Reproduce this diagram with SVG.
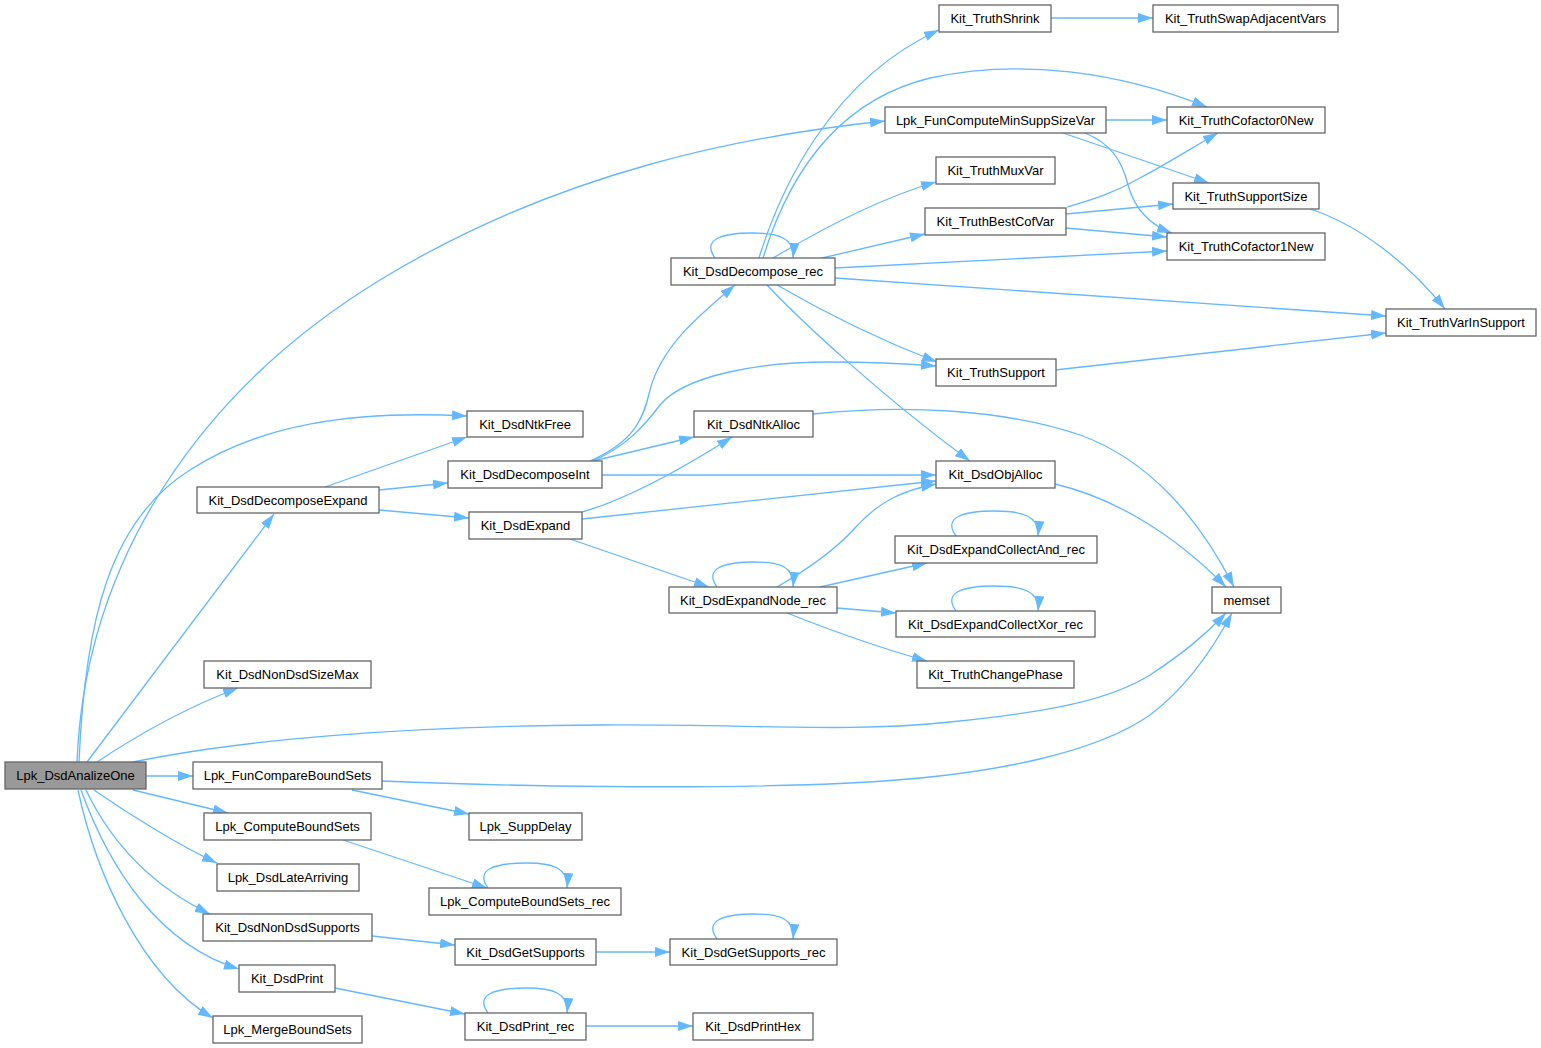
<svg xmlns="http://www.w3.org/2000/svg" width="1541" height="1048" viewBox="0 0 1541 1048">
<style>
.n rect{fill:#ffffff;stroke:#666666;stroke-width:1.3}
.root rect{fill:#999999}
text{font-family:"Liberation Sans",Arial,sans-serif;font-size:13px;fill:#000;text-anchor:middle}
.e path{fill:none;stroke:#63b8ff;stroke-width:1.3;marker-end:url(#ah)}
</style>
<defs>
<marker id="ah" markerUnits="userSpaceOnUse" markerWidth="16" markerHeight="11" refX="15" refY="5" orient="auto">
<path d="M0,0 L15,5 L0,10 z" fill="#63b8ff" stroke="none"/>
</marker>
</defs>
<rect width="1541" height="1048" fill="#ffffff"/>
<g id="connectors" class="e">
<path d="M77,762 C 85,560 200,390 380,280 C 560,170 750,135 885,121"/>
<path d="M79,762 C 85,620 110,520 190,470 C 260,425 350,410 467,416"/>
<path d="M87,762 L 274,514"/>
<path d="M97,762 C 130,740 180,710 238,688"/>
<path d="M133,762 C 240,740 400,726 600,725 C 750,724 850,733 950,722 C 1050,712 1110,700 1150,675 C 1185,652 1205,635 1226,613"/>
<path d="M146,776 L 193,776"/>
<path d="M133,790 L 228,813"/>
<path d="M94,790 C 130,815 180,846 217,863"/>
<path d="M86,790 C 110,840 150,885 210,914"/>
<path d="M81,790 C 110,870 160,945 239,969"/>
<path d="M78,790 C 95,870 140,975 213,1018"/>
<path d="M382,781 C 500,786 700,790 850,783 C 1000,776 1100,750 1150,715 C 1190,685 1215,645 1232,613"/>
<path d="M352,790 L 469,814"/>
<path d="M343,840 L 487,888"/>
<path d="M488,888 C 475,870 493,863 527,863 C 552,863 569,868 567,888"/>
<path d="M372,936 L 455,945"/>
<path d="M596,952 L 670,952"/>
<path d="M717,939 C 704,921 722,914 755,914 C 780,914 795,919 793,939"/>
<path d="M335,988 L 465,1014"/>
<path d="M488,1013 C 475,995 493,988 527,988 C 552,988 569,993 567,1013"/>
<path d="M586,1026 L 693,1026"/>
<path d="M325,487 L 467,437"/>
<path d="M379,490 L 448,483"/>
<path d="M379,510 L 469,518"/>
<path d="M590,461 C 640,440 645,410 650,390 C 662,345 700,315 735,285"/>
<path d="M592,461 C 625,448 645,425 660,405 C 685,375 760,362 830,362 C 880,362 910,364 936,366"/>
<path d="M593,461 L 694,437"/>
<path d="M602,475 L 936,475"/>
<path d="M582,512 C 625,500 680,470 732,437"/>
<path d="M582,519 L 936,481"/>
<path d="M570,539 L 709,587"/>
<path d="M717,587 C 704,569 722,562 755,562 C 780,562 795,567 793,587"/>
<path d="M777,587 C 810,568 835,550 855,528 C 880,500 905,490 936,484"/>
<path d="M820,587 L 927,563"/>
<path d="M837,608 L 896,613"/>
<path d="M787,613 C 830,630 880,648 927,661"/>
<path d="M956,536 C 943,518 961,511 995,511 C 1022,511 1040,516 1038,536"/>
<path d="M956,611 C 943,593 961,586 995,586 C 1022,586 1040,591 1038,611"/>
<path d="M813,414 C 900,405 1000,408 1080,435 C 1150,460 1200,520 1234,587"/>
<path d="M1055,484 C 1110,497 1170,530 1226,587"/>
<path d="M715,258 C 702,240 720,233 753,233 C 778,233 795,238 793,258"/>
<path d="M759,258 C 780,190 830,80 939,30"/>
<path d="M763,258 C 790,170 840,100 930,78 C 1020,58 1120,72 1207,107"/>
<path d="M773,258 C 820,230 880,198 936,182"/>
<path d="M822,258 L 925,234"/>
<path d="M835,268 L 1167,251"/>
<path d="M835,278 L 1386,316"/>
<path d="M777,285 C 820,310 880,340 937,362"/>
<path d="M767,285 C 800,320 880,395 970,461"/>
<path d="M1106,120 L 1167,120"/>
<path d="M1063,133 L 1209,183"/>
<path d="M1085,133 C 1110,143 1122,160 1128,185 C 1135,210 1150,225 1172,233"/>
<path d="M1067,207 C 1090,200 1110,195 1140,178 C 1170,162 1195,146 1218,133"/>
<path d="M1066,214 L 1173,204"/>
<path d="M1066,228 L 1167,237"/>
<path d="M1310,209 C 1360,225 1410,265 1445,309"/>
<path d="M1055,370 L 1386,333"/>
<path d="M1051,18 L 1153,18"/>
</g>
<g id="n0" class="n root"><rect x="5" y="762" width="141" height="27"/><text x="75.5" y="780">Lpk_DsdAnalizeOne</text></g>
<g id="n1" class="n"><rect x="885" y="107" width="221" height="26"/><text x="995.5" y="124.5">Lpk_FunComputeMinSuppSizeVar</text></g>
<g id="n2" class="n"><rect x="1167" y="107" width="158" height="26"/><text x="1246" y="124.5">Kit_TruthCofactor0New</text></g>
<g id="n3" class="n"><rect x="1173" y="183" width="146" height="26"/><text x="1246" y="200.5">Kit_TruthSupportSize</text></g>
<g id="n4" class="n"><rect x="1167" y="233" width="158" height="27"/><text x="1246" y="251">Kit_TruthCofactor1New</text></g>
<g id="n5" class="n"><rect x="467" y="411" width="116" height="26"/><text x="525" y="428.5">Kit_DsdNtkFree</text></g>
<g id="n6" class="n"><rect x="197" y="487" width="182" height="26"/><text x="288" y="504.5">Kit_DsdDecomposeExpand</text></g>
<g id="n7" class="n"><rect x="448" y="461" width="154" height="27"/><text x="525" y="479">Kit_DsdDecomposeInt</text></g>
<g id="n8" class="n"><rect x="469" y="512" width="113" height="27"/><text x="525.5" y="530">Kit_DsdExpand</text></g>
<g id="n9" class="n"><rect x="671" y="258" width="164" height="27"/><text x="753" y="276">Kit_DsdDecompose_rec</text></g>
<g id="n10" class="n"><rect x="936" y="359" width="120" height="27"/><text x="996" y="377">Kit_TruthSupport</text></g>
<g id="n11" class="n"><rect x="694" y="411" width="119" height="26"/><text x="753.5" y="428.5">Kit_DsdNtkAlloc</text></g>
<g id="n12" class="n"><rect x="936" y="461" width="119" height="27"/><text x="995.5" y="479">Kit_DsdObjAlloc</text></g>
<g id="n13" class="n"><rect x="669" y="587" width="168" height="26"/><text x="753" y="604.5">Kit_DsdExpandNode_rec</text></g>
<g id="n14" class="n"><rect x="939" y="5" width="112" height="27"/><text x="995" y="23">Kit_TruthShrink</text></g>
<g id="n15" class="n"><rect x="1153" y="5" width="185" height="27"/><text x="1245.5" y="23">Kit_TruthSwapAdjacentVars</text></g>
<g id="n16" class="n"><rect x="936" y="157" width="119" height="27"/><text x="995.5" y="175">Kit_TruthMuxVar</text></g>
<g id="n17" class="n"><rect x="925" y="208" width="141" height="27"/><text x="995.5" y="226">Kit_TruthBestCofVar</text></g>
<g id="n18" class="n"><rect x="1386" y="309" width="150" height="27"/><text x="1461" y="327">Kit_TruthVarInSupport</text></g>
<g id="n19" class="n"><rect x="1212" y="587" width="69" height="26"/><text x="1246.5" y="604.5">memset</text></g>
<g id="n20" class="n"><rect x="895" y="536" width="202" height="27"/><text x="996" y="554">Kit_DsdExpandCollectAnd_rec</text></g>
<g id="n21" class="n"><rect x="896" y="611" width="199" height="26"/><text x="995.5" y="628.5">Kit_DsdExpandCollectXor_rec</text></g>
<g id="n22" class="n"><rect x="917" y="661" width="157" height="27"/><text x="995.5" y="679">Kit_TruthChangePhase</text></g>
<g id="n23" class="n"><rect x="204" y="661" width="167" height="27"/><text x="287.5" y="679">Kit_DsdNonDsdSizeMax</text></g>
<g id="n24" class="n"><rect x="193" y="762" width="189" height="27"/><text x="287.5" y="780">Lpk_FunCompareBoundSets</text></g>
<g id="n25" class="n"><rect x="469" y="813" width="113" height="27"/><text x="525.5" y="831">Lpk_SuppDelay</text></g>
<g id="n26" class="n"><rect x="204" y="813" width="167" height="27"/><text x="287.5" y="831">Lpk_ComputeBoundSets</text></g>
<g id="n27" class="n"><rect x="429" y="888" width="192" height="27"/><text x="525" y="906">Lpk_ComputeBoundSets_rec</text></g>
<g id="n28" class="n"><rect x="217" y="864" width="142" height="27"/><text x="288" y="882">Lpk_DsdLateArriving</text></g>
<g id="n29" class="n"><rect x="203" y="914" width="169" height="27"/><text x="287.5" y="932">Kit_DsdNonDsdSupports</text></g>
<g id="n30" class="n"><rect x="455" y="939" width="141" height="26"/><text x="525.5" y="956.5">Kit_DsdGetSupports</text></g>
<g id="n31" class="n"><rect x="670" y="939" width="167" height="26"/><text x="753.5" y="956.5">Kit_DsdGetSupports_rec</text></g>
<g id="n32" class="n"><rect x="239" y="965" width="96" height="27"/><text x="287" y="983">Kit_DsdPrint</text></g>
<g id="n33" class="n"><rect x="465" y="1013" width="121" height="27"/><text x="525.5" y="1031">Kit_DsdPrint_rec</text></g>
<g id="n34" class="n"><rect x="693" y="1013" width="120" height="27"/><text x="753" y="1031">Kit_DsdPrintHex</text></g>
<g id="n35" class="n"><rect x="213" y="1016" width="149" height="27"/><text x="287.5" y="1034">Lpk_MergeBoundSets</text></g>
</svg>
